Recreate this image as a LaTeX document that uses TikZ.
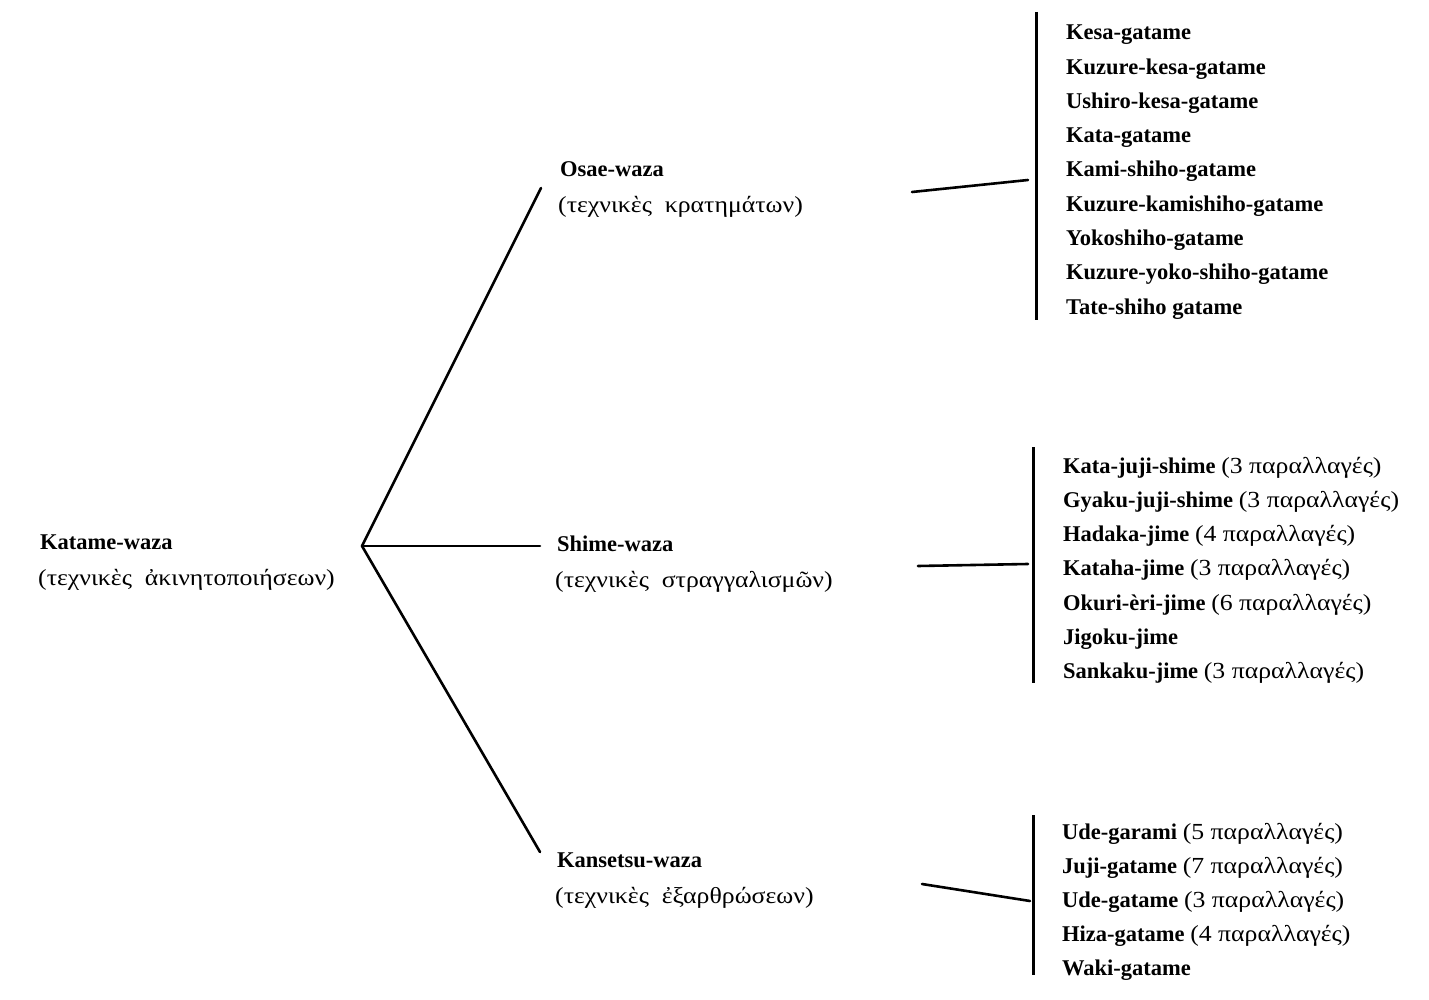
\documentclass[tikz,border=0pt]{standalone}
\usepackage{fontspec}
\setmainfont{Liberation Serif}
\newfontfamily\grk[FakeStretch=1.12]{Liberation Serif}
\begin{document}
\begin{tikzpicture}[x=1pt,y=-1pt,
  lbl/.style={anchor=base west, inner sep=0pt, font=\fontsize{22.5}{26}\selectfont\bfseries},
  gr/.style={anchor=base west, inner sep=0pt, font=\fontsize{23}{26}\selectfont\grk},
  ln/.style={line width=2.6pt, line cap=round},
  br/.style={line width=3pt}]
\useasboundingbox (0,0) rectangle (1429,1000);
\newcommand{\prl}[1]{{\fontsize{23}{26}\selectfont\grk\mdseries #1}}
% root
\node[lbl] (root) at (40,549) {Katame-waza};
\node[gr] (rootg) at (38,585) {(τεχνικὲς \ ἀκινητοποιήσεων)};
\coordinate (fork) at (362,546);
% level 1
\node[lbl] (osae) at (560,177) {Osae-waza};
\node[gr] (osaeg) at (558,213) {(τεχνικὲς \ κρατημάτων)};
\node[lbl] (shime) at (557,551) {Shime-waza};
\node[gr] (shimeg) at (555,587) {(τεχνικὲς \ στραγγαλισμῶν)};
\node[lbl] (kans) at (557,867) {Kansetsu-waza};
\node[gr] (kansg) at (555,903) {(τεχνικὲς \ ἐξαρθρώσεων)};
\coordinate (osaeIn) at (541,188);
\coordinate (shimeIn) at (540,546);
\coordinate (kansIn) at (540,852);
\draw[ln] (fork) -- (osaeIn);
\draw[ln] (fork) -- (shimeIn);
\draw[ln] (fork) -- (kansIn);
% connectors to brackets
\coordinate (osaeOut) at (912,192);
\coordinate (osaeBr) at (1028,180);
\coordinate (osaeTop) at (1036,12);
\coordinate (osaeBot) at (1036,320);
\draw[ln] (osaeOut) -- (osaeBr);
\draw[br] (osaeTop) -- (osaeBot);
\coordinate (shimeOut) at (918,566);
\coordinate (shimeBr) at (1028,564);
\coordinate (shimeTop) at (1033,447);
\coordinate (shimeBot) at (1033,683);
\draw[ln] (shimeOut) -- (shimeBr);
\draw[br] (shimeTop) -- (shimeBot);
\coordinate (kansOut) at (922,884);
\coordinate (kansBr) at (1030,901);
\coordinate (kansTop) at (1033,815);
\coordinate (kansBot) at (1033,975);
\draw[ln] (kansOut) -- (kansBr);
\draw[br] (kansTop) -- (kansBot);
% Osae list
\foreach \t [count=\i from 0] in {Kesa-gatame,Kuzure-kesa-gatame,Ushiro-kesa-gatame,Kata-gatame,Kami-shiho-gatame,Kuzure-kamishiho-gatame,Yokoshiho-gatame,Kuzure-yoko-shiho-gatame,Tate-shiho gatame}
  \node[lbl] (o\i) at (1066,{40+34.25*\i}) {\t};
% Shime list
\foreach \t/\p [count=\i from 0] in {Kata-juji-shime/(3 παραλλαγές),Gyaku-juji-shime/(3 παραλλαγές),Hadaka-jime/(4 παραλλαγές),Kataha-jime/(3 παραλλαγές),Okuri-èri-jime/(6 παραλλαγές),Jigoku-jime/,Sankaku-jime/(3 παραλλαγές)}
  \node[lbl] (s\i) at (1063,{473+34.3*\i}) {\t\ \prl{\p}};
% Kansetsu list
\foreach \t/\p [count=\i from 0] in {Ude-garami/(5 παραλλαγές),Juji-gatame/(7 παραλλαγές),Ude-gatame/(3 παραλλαγές),Hiza-gatame/(4 παραλλαγές),Waki-gatame/}
  \node[lbl] (k\i) at (1062,{839+34*\i}) {\t\ \prl{\p}};
\end{tikzpicture}
\end{document}
